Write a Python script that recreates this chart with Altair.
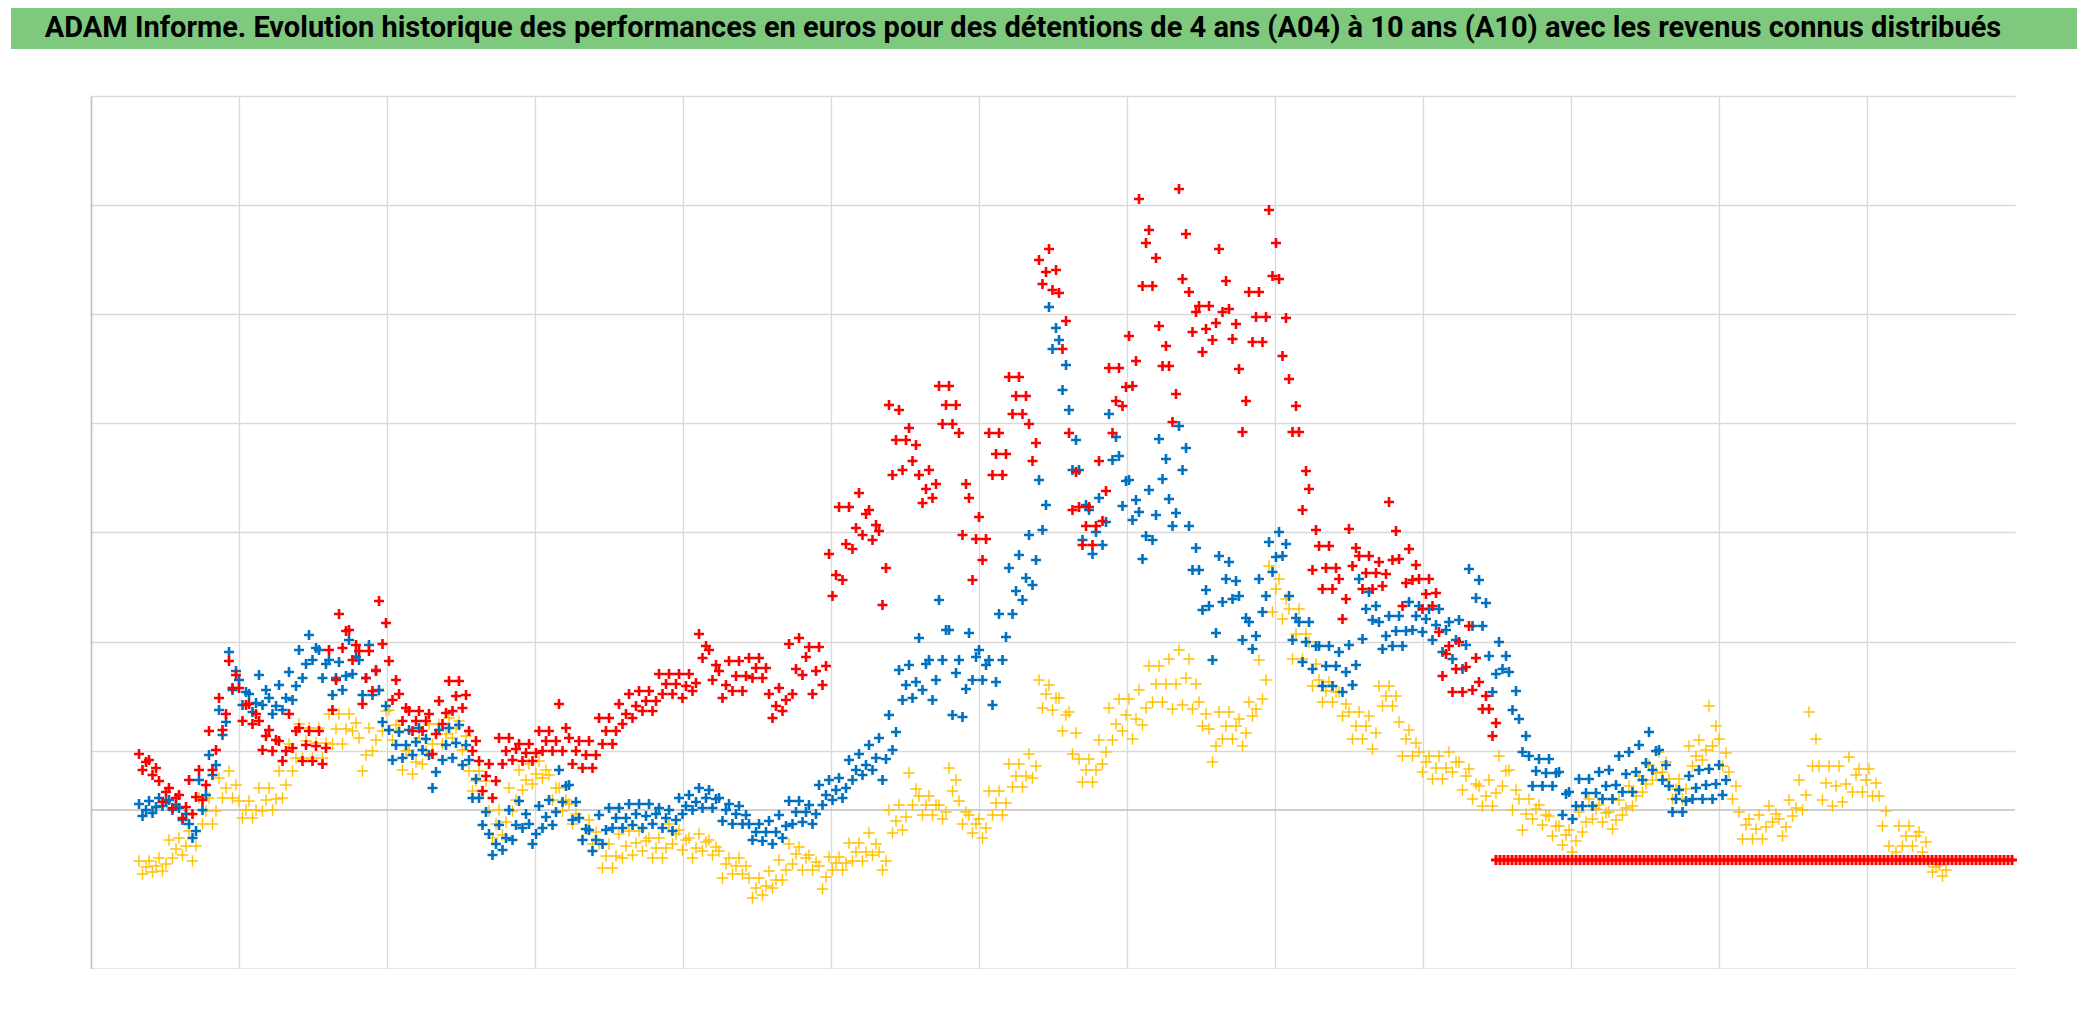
import altair as alt
import pandas as pd

TITLE = ("ADAM Informe. Evolution historique des performances en euros pour des "
         "détentions de 4 ans (A04) à 10 ans (A10) avec les revenus connus distribués")

# ---- data ----
X_START = 48
X_STEP = 10
X_MAX = 1924
Y_MIN, Y_MAX = -159, 714
X_GRID = [147.96 * k for k in range(13)]
Y_GRID = [-159, 59.4, 168.5, 277.6, 386.7, 495.8, 604.9, 714]

blue_hi = [6, 9, 12, 10, 2, -14, 30, 55, 100, 158,
           130, 116, 135, 112, 125, 138, 160, 175, 160, 150,
           148, 170, 150, 165, 120, 80, 78, 80, 82, 55,
           80, 82, 85, 50, 12, -24, -15, 0, 9, -14,
           4, 10, 40, 25, -8, -20, -5, 2, 2, 6,
           6, 6, 2, 0, 12, 15, 22, 20, 12, 6,
           4, -14, -14, -11, -5, 9, 9, 5, 25, 30,
           32, 50, 56, 65, 72, 95, 140, 145, 172, 150,
           210, 180, 150, 177, 160, 150, 196, 242, 255, 275,
           330, 503, 470, 400, 340, 300, 312, 396, 354, 330,
           298, 320, 371, 311, 384, 284, 240, 204, 254, 248,
           214, 188, 231, 268, 278, 214, 188, 188, 164, 164,
           158, 165, 231, 218, 188, 194, 194, 208, 204, 201,
           201, 188, 190, 241, 230, 154, 168, 138, 91, 54,
           51, 51, 38, 18, 31, 31, 38, 40, 54, 58,
           65, 78, 60, 24, 20, 34, 40, 41, 45]
blue_mid = [0, 3, 8, 5, -4, -21, 15, 45, 88, 139,
            118, 107, 120, 104, 112, 124, 146, 162, 146, 132,
            134, 153, 132, 140, 104, 65, 65, 68, 71, 38,
            65, 67, 65, 31, -2, -34, -28, -15, -4, -24,
            -7, -2, 24, 8, -19, -30, -20, -8, -8, -4,
            -6, -4, -8, -10, 4, 8, 12, 11, 0, -4,
            -5, -22, -22, -22, -16, -2, -2, -4, 15, 20,
            22, 40, 45, 52, 51, 78, 125, 128, 146, 130,
            180, 137, 121, 153, 145, 128, 173, 219, 232, 250,
            305, 482, 445, 370, 305, 278, 288, 373, 329, 310,
            274, 295, 351, 297, 362, 262, 220, 177, 231, 229,
            192, 174, 214, 253, 266, 192, 168, 164, 144, 144,
            138, 145, 201, 204, 174, 179, 179, 194, 191, 185,
            180, 170, 165, 212, 207, 136, 154, 119, 74, 39,
            37, 37, 16, 4, 17, 17, 24, 25, 36, 38,
            47, 59, 45, 11, 9, 22, 25, 26, 30]
blue_lo = [-6, -3, 4, 0, -10, -28, 0, 35, 75, 120,
           105, 98, 105, 96, 100, 110, 132, 150, 132, 115,
           120, 136, 115, 115, 88, 50, 52, 55, 60, 22,
           50, 52, 45, 12, -15, -45, -40, -30, -18, -34,
           -18, -15, 8, -10, -30, -41, -34, -18, -18, -15,
           -18, -14, -18, -21, -4, 0, 2, 2, -11, -14,
           -14, -30, -31, -34, -28, -14, -12, -14, 5, 10,
           12, 30, 35, 40, 30, 60, 110, 112, 120, 110,
           150, 95, 93, 130, 130, 105, 150, 196, 210, 225,
           280, 461, 420, 340, 270, 256, 265, 350, 304, 290,
           251, 270, 331, 284, 340, 240, 200, 150, 208, 211,
           170, 161, 198, 238, 254, 170, 148, 141, 124, 124,
           118, 125, 171, 190, 161, 164, 164, 180, 178, 170,
           158, 151, 141, 184, 184, 118, 141, 100, 58, 24,
           24, 24, -5, -9, 4, 4, 11, 11, 18, 18,
           30, 40, 30, -2, -2, 11, 11, 11, 15]

red_hi = [56, 50, 29, 22, 15, 30, 40, 79, 112, 149,
          122, 106, 89, 80, 69, 96, 82, 79, 79, 160,
          196, 180, 159, 159, 209, 149, 116, 99, 99, 96,
          109, 129, 129, 79, 49, 46, 72, 72, 66, 66,
          79, 79, 106, 72, 69, 69, 92, 92, 106, 116,
          119, 119, 136, 136, 136, 136, 176, 160, 139, 149,
          149, 152, 152, 116, 122, 166, 172, 163, 163, 256,
          303, 303, 317, 300, 279, 405, 400, 382, 335, 340,
          424, 424, 377, 312, 293, 377, 377, 433, 433, 386,
          550, 561, 517, 377, 303, 303, 349, 442, 442, 474,
          611, 580, 484, 444, 621, 518, 504, 504, 561, 501,
          441, 518, 518, 600, 531, 431, 378, 321, 264, 264,
          231, 281, 254, 254, 248, 308, 251, 261, 231, 231,
          178, 164, 168, 184, 128, 101]
red_mid = [48, 42, 18, 12, 3, 13, 25, 60, 96, 135,
           105, 96, 74, 70, 59, 79, 65, 64, 62, 130,
           179, 165, 132, 139, 187, 130, 102, 89, 89, 76,
           97, 114, 115, 69, 34, 29, 59, 61, 57, 57,
           69, 69, 82, 59, 55, 55, 79, 79, 96, 104,
           109, 109, 126, 126, 124, 127, 164, 145, 125, 134,
           134, 142, 142, 104, 110, 141, 153, 139, 144, 235,
           266, 282, 296, 285, 242, 370, 370, 365, 321, 326,
           405, 405, 326, 271, 271, 356, 356, 414, 414, 367,
           538, 540, 489, 338, 284, 284, 319, 409, 423, 449,
           567, 552, 464, 416, 576, 498, 481, 487, 529, 486,
           409, 493, 493, 567, 492, 404, 339, 280, 242, 242,
           211, 262, 237, 237, 236, 279, 227, 245, 216, 217,
           156, 141, 143, 152, 114, 87]
red_lo = [40, 35, 8, 2, -8, -4, 10, 40, 80, 122,
          89, 86, 60, 59, 49, 62, 49, 49, 46, 100,
          162, 150, 106, 119, 166, 110, 89, 79, 79, 56,
          86, 99, 102, 59, 19, 12, 46, 50, 49, 49,
          59, 59, 59, 46, 42, 42, 66, 66, 86, 92,
          99, 99, 116, 116, 112, 119, 152, 130, 112, 119,
          119, 132, 132, 92, 99, 116, 135, 116, 125, 214,
          230, 261, 275, 270, 205, 335, 340, 349, 307, 312,
          386, 386, 275, 230, 250, 335, 335, 396, 396, 349,
          526, 520, 461, 300, 265, 265, 289, 377, 404, 424,
          524, 524, 444, 388, 531, 478, 458, 470, 498, 471,
          378, 468, 468, 534, 454, 378, 300, 240, 221, 221,
          191, 244, 221, 221, 224, 250, 204, 230, 201, 204,
          134, 118, 118, 120, 101, 74]

yellow_hi = [-51, -51, -48, -30, -28, -21, 12, 12, 32, 39,
             9, 9, 22, 22, 39, 66, 86, 82, 82, 96,
             96, 96, 72, 82, 119, 100, 79, 60, 72, 86,
             86, 92, 89, 39, 39, -1, 0, 22, 40, 46,
             49, 35, 22, 6, -8, -10, -34, -34, -24, -21,
             -21, -28, -28, -14, -20, -28, -24, -30, -41, -48,
             -48, -68, -68, -61, -50, -34, -37, -45, -56, -47,
             -47, -33, -33, -23, -42, 0, 5, 37, 14, 14,
             5, 42, 9, -5, -9, 19, 19, 46, 46, 56,
             130, 125, 112, 98, 51, 51, 70, 102, 111, 111,
             120, 144, 144, 151, 160, 151, 108, 81, 98, 98,
             91, 108, 150, 244, 231, 201, 201, 168, 130, 128,
             118, 98, 98, 94, 124, 124, 88, 80, 58, 54,
             54, 58, 48, 41, 24, 30, 54, 40, 11, 11,
             5, -6, -16, -20, -2, 11, 5, -2, 10, 24,
             34, 45, 58, 31, 31, 64, 70, 104, 71, 38,
             -2, -9, -5, 4, -9, 10, 30, 98, 44, 44,
             44, 53, 41, 41, 14, -36, -16, -16, -22, -52, -55]
yellow_mid = [-57, -56, -54, -39, -36, -36, -1, -1, 22, 25,
              0, 0, 10, 11, 25, 52, 69, 67, 67, 81,
              81, 87, 55, 70, 99, 85, 59, 48, 59, 76,
              76, 82, 74, 29, 29, -14, -12, 10, 30, 36,
              40, 22, 10, -4, -19, -22, -46, -46, -36, -33,
              -31, -38, -38, -24, -30, -38, -32, -37, -54, -56,
              -56, -78, -76, -70, -60, -44, -48, -52, -67, -53,
              -53, -42, -42, -34, -51, -11, -7, 21, 5, 5,
              -2, 30, -2, -14, -18, 7, 7, 34, 34, 44,
              116, 112, 95, 77, 40, 40, 58, 86, 95, 91,
              102, 126, 126, 126, 132, 126, 96, 64, 84, 84,
              77, 101, 130, 221, 211, 176, 176, 146, 119, 118,
              106, 84, 84, 77, 114, 114, 71, 67, 48, 42,
              42, 48, 34, 26, 14, 17, 39, 20, -4, 1,
              -5, -16, -25, -31, -12, 1, -3, -10, 2, 14,
              26, 37, 48, 21, 21, 54, 60, 84, 57, 24,
              -15, -19, -17, -4, -17, 2, 15, 71, 27, 24,
              26, 35, 30, 27, -1, -42, -26, -26, -32, -57, -60]
yellow_lo = [-64, -62, -61, -48, -45, -51, -14, -14, 12, 12,
             -8, -8, -1, 0, 12, 39, 52, 52, 52, 66,
             66, 79, 39, 59, 79, 70, 40, 36, 46, 66,
             66, 72, 60, 19, 19, -28, -25, -1, 20, 26,
             32, 10, -1, -14, -30, -34, -58, -58, -48, -45,
             -41, -48, -48, -34, -40, -48, -41, -45, -68, -64,
             -64, -88, -85, -78, -70, -54, -60, -60, -79, -60,
             -60, -51, -51, -45, -60, -23, -20, 5, -5, -5,
             -9, 19, -14, -23, -28, -5, -5, 23, 23, 32,
             102, 100, 79, 56, 28, 28, 46, 70, 79, 71,
             85, 108, 108, 101, 105, 101, 84, 48, 71, 71,
             64, 94, 111, 198, 191, 151, 151, 124, 108, 108,
             94, 71, 71, 61, 104, 104, 54, 54, 38, 31,
             31, 38, 20, 11, 4, 4, 24, 0, -20, -9,
             -15, -26, -35, -42, -22, -9, -12, -19, -5, 4,
             18, 30, 38, 11, 11, 44, 50, 64, 44, 11,
             -29, -29, -29, -12, -26, -6, 0, 44, 10, 4,
             8, 18, 18, 14, -16, -49, -36, -36, -42, -62, -66]

red_flat_value = -50
red_flat_start = 1405
red_flat_end = 1924
red_flat_step = 4

COLORS = {"A10": "#FFC000", "A07": "#0070C0", "A04": "#FF0000"}
PLUS = "M-1,0H1M0,-1V1"


def rows(hi, mid, lo):
    out = []
    for i, (h, m, l) in enumerate(zip(hi, mid, lo)):
        x = X_START + X_STEP * i
        out.append({"x": x, "y": h})
        out.append({"x": x + 3.5, "y": l})
        out.append({"x": x + 7, "y": m})
    return pd.DataFrame(out)


df_yellow = rows(yellow_hi, yellow_mid, yellow_lo)
df_blue = rows(blue_hi, blue_mid, blue_lo)
df_red = rows(red_hi, red_mid, red_lo)
df_flat = pd.DataFrame({"x": list(range(red_flat_start, red_flat_end + 1, red_flat_step))})
df_flat["y"] = red_flat_value

xs = alt.Scale(domain=[0, X_MAX], nice=False, zero=False)
ys = alt.Scale(domain=[Y_MIN, Y_MAX], nice=False, zero=False)
x_axis = alt.Axis(values=X_GRID, grid=True, gridColor="#D9D9D9", gridWidth=1.3,
                  labels=False, ticks=False, domain=True, domainColor="#BFBFBF",
                  domainWidth=1.3, title=None)
y_axis = alt.Axis(values=Y_GRID, grid=True, gridColor="#D9D9D9", gridWidth=1.3,
                  labels=False, ticks=False, domain=True, domainColor="#BFBFBF",
                  domainWidth=1.5, title=None)


def pts(df, color, size, sw):
    return alt.Chart(df).mark_point(shape=PLUS, filled=False, color=color, size=size,
                                    strokeWidth=sw, opacity=1).encode(
        x=alt.X("x:Q", scale=xs, axis=x_axis),
        y=alt.Y("y:Q", scale=ys, axis=y_axis),
    )


zero_rule = alt.Chart(pd.DataFrame({"y": [0]})).mark_rule(
    color="#BFBFBF", strokeWidth=1.6).encode(y=alt.Y("y:Q", scale=ys, axis=y_axis))

plot = alt.layer(
    zero_rule,
    pts(df_yellow, COLORS["A10"], 130, 1.4),
    pts(df_blue, COLORS["A07"], 100, 2.6),
    pts(df_red, COLORS["A04"], 100, 2.6),
    pts(df_flat, COLORS["A04"], 100, 3.0),
).properties(width=X_MAX, height=Y_MAX - Y_MIN, view=alt.ViewBackground(stroke=None))

spacer = alt.Chart(pd.DataFrame({"a": [0]})).mark_point(opacity=0).encode(
    x=alt.value(0), y=alt.value(0)
).properties(width=79, height=10, view=alt.ViewBackground(stroke=None))

title_panel = alt.Chart(pd.DataFrame({"t": [TITLE]})).mark_text(
    font="Roboto", fontSize=29, fontWeight="bold", color="#000000",
    align="center", baseline="alphabetic"
).encode(text="t:N", x=alt.value(1012), y=alt.value(29)).properties(
    width=2066, height=41, view=alt.ViewBackground(fill="#7FC97F", stroke=None))

row = alt.hconcat(spacer, plot, spacing=0)
chart = alt.vconcat(title_panel, row, spacing=44).properties(
    padding=0, background="white")

chart.save("out.html", embed_options={"renderer": "svg", "actions": False})
